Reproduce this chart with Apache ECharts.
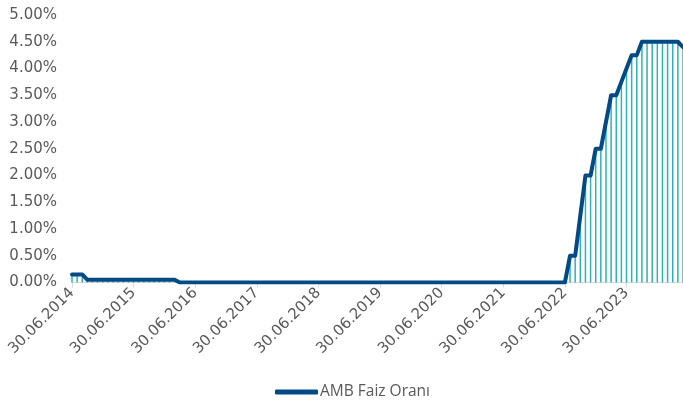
<!DOCTYPE html>
<html>
<head>
<meta charset="utf-8">
<script src="https://cdn.jsdelivr.net/npm/echarts@6/dist/echarts.min.js"></script>
<style>
  html, body { margin: 0; padding: 0; background: #ffffff; }
  #chart { width: 683px; height: 409px; }
</style>
</head>
<body>
<div id="chart"></div>
<script>
// Monthly observations, 30.06.2014 .. 31.05.2024 (one value per month-end)
const startYear = 2014;
const startMonth = 6;   // June
const monthCount = 120;

// Policy rate, % (month-end values)
const rate = [
  0.15, 0.15, 0.15,                                           // Jun-Aug 2014
  0.05, 0.05, 0.05, 0.05,                                     // Sep-Dec 2014
  0.05, 0.05, 0.05, 0.05, 0.05, 0.05, 0.05, 0.05, 0.05, 0.05, 0.05, 0.05, // 2015
  0.05, 0.05,                                                 // Jan-Feb 2016
  0, 0, 0, 0, 0, 0, 0, 0, 0, 0,                               // Mar-Dec 2016
  0, 0, 0, 0, 0, 0, 0, 0, 0, 0, 0, 0,                         // 2017
  0, 0, 0, 0, 0, 0, 0, 0, 0, 0, 0, 0,                         // 2018
  0, 0, 0, 0, 0, 0, 0, 0, 0, 0, 0, 0,                         // 2019
  0, 0, 0, 0, 0, 0, 0, 0, 0, 0, 0, 0,                         // 2020
  0, 0, 0, 0, 0, 0, 0, 0, 0, 0, 0, 0,                         // 2021
  0, 0, 0, 0, 0, 0,                                           // Jan-Jun 2022
  0.50, 0.50, 1.25, 2.00, 2.00, 2.50,                         // Jul-Dec 2022
  2.50, 3.00, 3.50, 3.50, 3.75, 4.00, 4.25, 4.25,             // Jan-Aug 2023
  4.50, 4.50, 4.50, 4.50,                                     // Sep-Dec 2023
  4.50, 4.50, 4.50, 4.50, 4.40                                // Jan-May 2024
];

const yTicks = { min: 0, max: 5, step: 0.5 };
const seriesName = 'AMB Faiz Oranı';

// Month-end date labels (dd.mm.yyyy)
function monthEnd(y, m) {
  const d = new Date(y, m, 0).getDate();
  return String(d).padStart(2, '0') + '.' + String(m).padStart(2, '0') + '.' + y;
}
const categories = [];
for (let i = 0; i < monthCount; i++) {
  const m0 = startMonth - 1 + i;
  categories.push(monthEnd(startYear + Math.floor(m0 / 12), (m0 % 12) + 1));
}

const labelColor = '#595959';
const axisFont = 'DejaVu Sans';
const lineColor = '#014a85';

const chart = echarts.init(document.getElementById('chart'), null, { renderer: 'canvas' });
chart.setOption({
  animation: false,
  backgroundColor: '#ffffff',
  grid: { left: 72, right: 0, top: 15, bottom: 126.5, containLabel: false },
  legend: {
    data: [seriesName],
    bottom: 4,
    left: 270,
    itemWidth: 43,
    itemHeight: 5,
    icon: 'roundRect',
    textStyle: { color: labelColor, fontSize: 15.5, fontFamily: 'Open Sans', padding: [0, 0, 0, -3] }
  },
  xAxis: {
    type: 'category',
    data: categories,
    boundaryGap: false,
    axisLine: { lineStyle: { color: '#d9d9d9', width: 1 } },
    axisTick: { show: true, interval: 11, length: 5, lineStyle: { color: '#d9d9d9' } },
    axisLabel: {
      interval: 11,
      rotate: 45,
      margin: 8,
      color: labelColor,
      fontSize: 15,
      fontFamily: axisFont
    },
    splitLine: { show: false }
  },
  yAxis: {
    type: 'value',
    min: yTicks.min,
    max: yTicks.max,
    interval: yTicks.step,
    axisLine: { show: false },
    axisTick: { show: false },
    splitLine: { show: false },
    axisLabel: {
      margin: 15,
      color: labelColor,
      fontSize: 15,
      fontFamily: axisFont,
      formatter: v => v.toFixed(2) + '%'
    }
  },
  series: [
    {
      name: 'bars',
      type: 'bar',
      data: rate,
      barWidth: 1.5,
      itemStyle: { color: '#2bb3b5' },
      silent: true,
      z: 1
    },
    {
      name: seriesName,
      type: 'line',
      data: rate,
      symbol: 'none',
      lineStyle: { color: lineColor, width: 4, cap: 'round', join: 'round' },
      itemStyle: { color: lineColor },
      z: 3
    }
  ]
});
</script>
</body>
</html>
